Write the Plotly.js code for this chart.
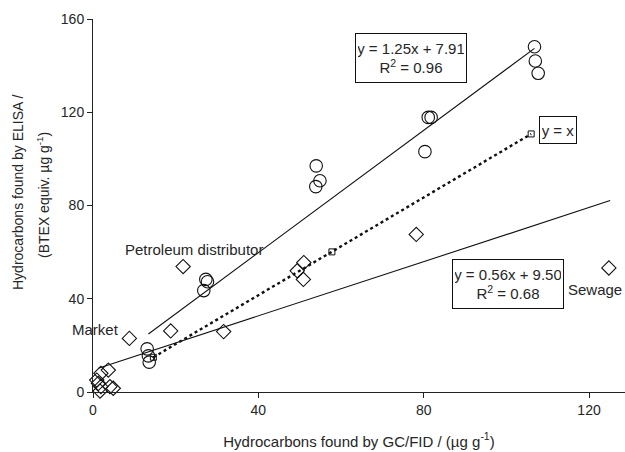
<!DOCTYPE html>
<html>
<head>
<meta charset="utf-8">
<script src="https://cdn.plot.ly/plotly-3.0.1.min.js"></script>
<style>html,body{margin:0;padding:0;background:#fff;}#chart{width:625px;height:452px;}</style>
</head>
<body>
<div id="chart"></div>
<script>
// ELISA vs GC/FID data (µg g-1)
const circleX = [106.8, 107.0, 107.7, 81.1, 81.8, 80.3, 54.0, 54.9, 53.9, 27.3, 27.7, 26.8, 13.1, 13.4, 13.6];
const circleY = [148.1, 142.0, 136.7, 117.8, 117.8, 103.1, 97.0, 90.6, 88.1, 48.3, 47.3, 43.5, 18.5, 15.5, 12.8];

const diamondX = [124.8, 78.2, 51.0, 49.4, 50.9, 31.6, 21.8, 18.8, 8.8, 3.7, 1.9, 1.3, 1.9, 4.1, 1.7, 4.9, 0.9];
const diamondY = [53.2, 67.6, 55.5, 52.0, 48.3, 25.9, 53.8, 26.2, 23.0, 9.4, 8.0, 3.7, 2.3, 2.3, 0.4, 1.6, 5.1];

// "y = x" reference line points as drawn
const identityX = [14.6, 57.8, 106.0];
const identityY = [14.9, 60.1, 110.7];

// regression lines as drawn (end points)
const upperLineX = [13.4, 106.8];
const upperLineY = [24.9, 147.4];
const lowerLineX = [1.3, 125.1];
const lowerLineY = [10.2, 82.1];

const xTicks = [0, 40, 80, 120];
const yTicks = [0, 40, 80, 120, 160];

const yTitleLines = ['Hydrocarbons found by ELISA /', '(BTEX equiv. µg g<sup>-1</sup>)'];

const FONT = '"Liberation Sans", Arial, sans-serif';
const TXT = '#262626';

const traces = [
  {x: upperLineX, y: upperLineY, mode: 'lines', line: {color: '#111', width: 1.1}},
  {x: lowerLineX, y: lowerLineY, mode: 'lines', line: {color: '#111', width: 1.1}},
  {x: identityX, y: identityY, mode: 'lines+markers', line: {color: '#111', width: 2.4, dash: 'dot'},
   marker: {symbol: 'square-open', size: 6, color: '#111', line: {width: 1, color: '#111'}}},
  {x: circleX, y: circleY, mode: 'markers',
   marker: {symbol: 'circle-open', size: 12.5, color: '#111', line: {width: 1.1, color: '#111'}}},
  {x: diamondX, y: diamondY, mode: 'markers',
   marker: {symbol: 'diamond-open', size: 11, color: '#111', line: {width: 1.1, color: '#111'}}}
];

const boxFont = {family: FONT, size: 15, color: TXT};
const titleFont = {family: FONT, size: 14, color: TXT};
const layout = {
  width: 625, height: 452,
  margin: {l: 93, r: 0, t: 19, b: 60},
  paper_bgcolor: '#fff', plot_bgcolor: '#fff',
  showlegend: false,
  font: {family: FONT, size: 13, color: TXT},
  xaxis: {
    range: [0, 128.7], tickvals: xTicks, ticktext: xTicks.map(String),
    showgrid: false, zeroline: false, showline: true, linecolor: '#222', linewidth: 1,
    ticks: 'outside', ticklen: 5, tickcolor: '#222',
    tickfont: {family: FONT, size: 14, color: TXT},
    title: {text: 'Hydrocarbons found by GC/FID / (µg g<sup>-1</sup>)', font: {family: FONT, size: 15, color: TXT}, standoff: 19}
  },
  yaxis: {
    range: [0, 160], tickvals: yTicks, ticktext: yTicks.map(String),
    showgrid: false, zeroline: false, showline: true, linecolor: '#222', linewidth: 1,
    ticks: 'outside', ticklen: 5, tickcolor: '#222',
    tickfont: {family: FONT, size: 14, color: TXT},
    title: {text: ''}
  },
  annotations: [
    {xref: 'paper', yref: 'paper', x: (18 - 93) / 532, y: (392 - 193) / 373, textangle: -90,
     showarrow: false, text: yTitleLines[0], font: titleFont, xanchor: 'center', yanchor: 'middle'},
    {xref: 'paper', yref: 'paper', x: (43 - 93) / 532, y: (392 - 195) / 373, textangle: -90,
     showarrow: false, text: yTitleLines[1], font: titleFont, xanchor: 'center', yanchor: 'middle'},
    {x: 76.9, y: 143.2, xref: 'x', yref: 'y', showarrow: false,
     text: 'y = 1.25x + 7.91<br>R<sup>2</sup> = 0.96', font: boxFont,
     bordercolor: '#111', borderwidth: 1, borderpad: 2, bgcolor: '#fff', width: 106, height: 44, align: 'center'},
    {x: 100.4, y: 46.5, xref: 'x', yref: 'y', showarrow: false,
     text: 'y = 0.56x + 9.50<br>R<sup>2</sup> = 0.68', font: boxFont,
     bordercolor: '#111', borderwidth: 1, borderpad: 2, bgcolor: '#fff', width: 106, height: 44, align: 'center'},
    {x: 112.4, y: 112.5, xref: 'x', yref: 'y', showarrow: false,
     text: 'y = x', font: boxFont,
     bordercolor: '#111', borderwidth: 1, borderpad: 2, bgcolor: '#fff', width: 32, height: 22},
    {x: 24.4, y: 61.3, xref: 'x', yref: 'y', showarrow: false, text: 'Petroleum distributor', font: boxFont},
    {x: 0.7, y: 27.0, xref: 'x', yref: 'y', showarrow: false, text: 'Market', font: boxFont},
    {x: 121.5, y: 43.8, xref: 'x', yref: 'y', showarrow: false, text: 'Sewage', font: boxFont}
  ]
};

traces.forEach(t => { t.cliponaxis = false; t.hoverinfo = 'skip'; });
Plotly.newPlot('chart', traces, layout, {staticPlot: true, displayModeBar: false});
</script>
</body>
</html>
